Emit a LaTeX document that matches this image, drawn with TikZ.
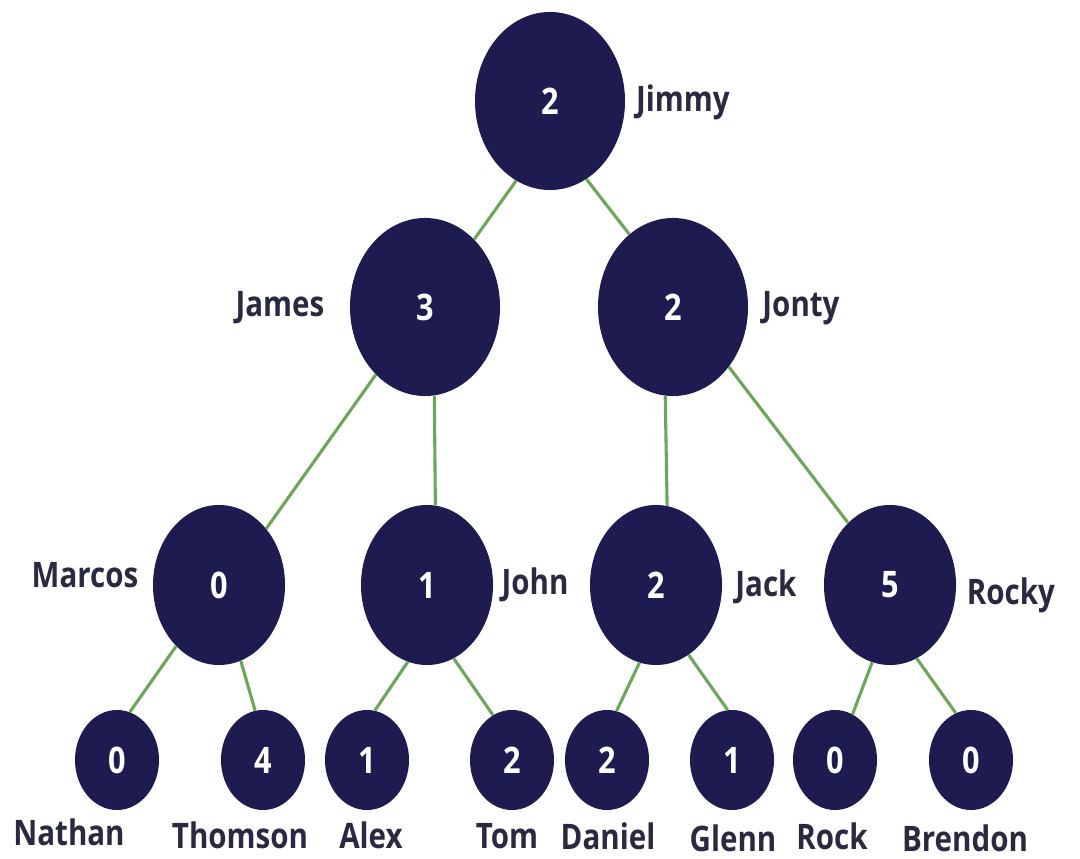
\documentclass[tikz,border=0pt]{standalone}
\usepackage{fontspec}
\setmainfont{Open Sans}[FakeStretch=0.84]
\usetikzlibrary{shapes.geometric}
\definecolor{navy}{RGB}{29,27,80}
\definecolor{lblcol}{RGB}{42,41,66}
\definecolor{edgegreen}{RGB}{108,166,88}
\tikzset{
  nd/.style={ellipse, fill=navy, inner sep=0pt, text=white,
    font=\fontsize{26pt}{30pt}\selectfont\bfseries},
  big/.style={nd, minimum width=3.75cm, minimum height=4.45cm},
  mid/.style={nd, minimum width=3.3cm, minimum height=4.0cm},
  leaf/.style={nd, minimum width=2.1cm, minimum height=2.5cm},
  lbl/.style={anchor=base, inner sep=0pt, text=lblcol,
    font=\fontsize{25pt}{30pt}\selectfont\bfseries},
  edge/.style={draw=edgegreen, line width=2.2pt}
}
\begin{document}
\begin{tikzpicture}[x=0.025cm, y=-0.025cm]
\useasboundingbox (0,0) rectangle (1080,859);
% nodes
\node[big] (root) at (550,101) {2};
\node[big] (james) at (425,307) {3};
\node[big] (jonty) at (673,307) {2};
\node[mid] (marcos) at (219,585) {0};
\node[mid] (john) at (427,585) {1};
\node[mid] (jack) at (656,585) {2};
\node[mid] (rocky) at (890,585) {5};
\node[leaf] (nathan) at (117,760) {0};
\node[leaf] (thomson) at (263,760) {4};
\node[leaf] (alex) at (367,760) {1};
\node[leaf] (tom) at (512,760) {2};
\node[leaf] (daniel) at (607,760) {2};
\node[leaf] (glenn) at (732,760) {1};
\node[leaf] (rock) at (835,760) {0};
\node[leaf] (brendon) at (971,760) {0};
% labels
\node[lbl] (lJimmy) at (683,112) {Jimmy};
\node[lbl] (lJames) at (280,317) {James};
\node[lbl] (lJonty) at (801,317) {Jonty};
\node[lbl] (lMarcos) at (85,588) {Marcos};
\node[lbl] (lJohn) at (535,595) {John};
\node[lbl] (lJack) at (766,596) {Jack};
\node[lbl] (lRocky) at (1011,605) {Rocky};
\node[lbl] (lNathan) at (69,845) {Nathan};
\node[lbl] (lThomson) at (240,848) {Thomson};
\node[lbl] (lAlex) at (371,848) {Alex};
\node[lbl] (lTom) at (507,848) {Tom};
\node[lbl] (lDaniel) at (608,849) {Daniel};
\node[lbl] (lGlenn) at (733,851) {Glenn};
\node[lbl] (lRock) at (832,849) {Rock};
\node[lbl] (lBrendon) at (965,851) {Brendon};
% edges
\draw[edge] (root.247) -- (james.54);
\draw[edge] (root.295) -- (jonty.121);
\draw[edge] (james.234) -- (marcos.50);
\draw[edge] (james.276.5) -- (john.84.2);
\draw[edge] (jonty.265.5) -- (jack.82.8);
\draw[edge] (jonty.313) -- (rocky.124);
\draw[edge] (marcos.235) -- (nathan.75);
\draw[edge] (marcos.286.6) -- (thomson.99);
\draw[edge] (john.256) -- (alex.81);
\draw[edge] (john.290) -- (tom.113);
\draw[edge] (jack.258.4) -- (daniel.79);
\draw[edge] (jack.295) -- (glenn.95.5);
\draw[edge] (rocky.257) -- (rock.69.4);
\draw[edge] (rocky.290.5) -- (brendon.108.8);
\end{tikzpicture}
\end{document}
